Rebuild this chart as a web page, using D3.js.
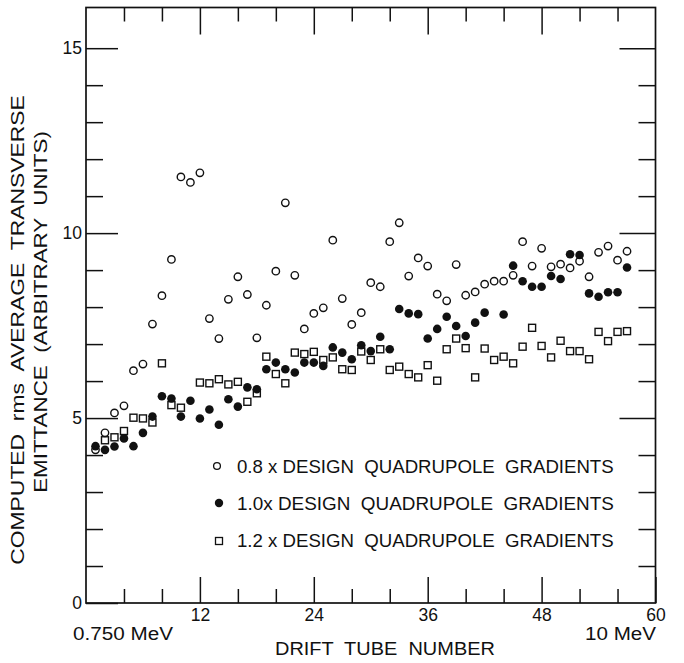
<!DOCTYPE html>
<html><head><meta charset="utf-8">
<script src="https://cdn.jsdelivr.net/npm/d3@7"></script>
<style>body{margin:0;background:#fff}svg{display:block}text{font-family:"Liberation Sans",Arial,sans-serif;fill:#111}</style>
</head><body><svg id="c" width="684" height="663"></svg>
<script>
// ---- data ----
const tubes = [1,2,3,4,5,6,7,8,9,10,11,12,13,14,15,16,17,18,19,20,21,22,23,24,25,26,27,28,29,30,
  31,32,33,34,35,36,37,38,39,40,41,42,43,44,45,46,47,48,49,50,51,52,53,54,55,56,57];
const grad08 = [4.14,4.60,5.14,5.33,6.28,6.46,7.54,8.31,9.29,11.52,11.37,11.63,7.69,7.15,8.21,8.82,
  8.34,7.17,8.05,8.97,10.82,8.86,7.41,7.83,7.98,9.81,8.23,7.53,7.85,8.66,8.55,
  9.77,10.28,8.84,9.33,9.11,8.35,8.17,9.15,8.32,8.41,8.62,8.70,8.70,8.86,9.77,
  9.11,9.59,9.09,9.16,9.06,9.24,8.82,9.48,9.65,9.27,9.51];
const grad10 = [4.24,4.14,4.23,4.45,4.24,4.60,5.04,5.59,5.53,5.04,5.47,4.99,5.23,4.82,5.51,5.31,
  5.83,5.78,6.32,6.50,6.32,6.23,6.50,6.50,6.41,6.91,6.77,6.59,6.97,6.81,7.20,
  6.86,7.95,7.83,7.81,7.15,7.41,7.74,7.49,7.22,7.58,7.85,null,7.80,9.12,8.70,
  8.55,8.55,8.84,8.76,9.43,9.41,8.37,8.28,8.40,8.40,9.07];
const grad12 = [null,4.40,4.48,4.65,5.01,4.99,4.88,6.48,5.35,5.28,null,5.96,5.94,6.05,5.91,5.98,
  5.44,5.67,6.66,6.19,5.94,6.77,6.73,6.79,6.57,6.64,6.32,6.30,6.80,6.57,6.86,
  6.30,6.39,6.19,6.10,6.43,6.01,6.86,7.15,6.89,6.10,6.88,6.57,6.66,6.48,6.93,
  7.44,6.95,6.64,7.09,6.81,6.81,6.59,7.33,7.08,7.33,7.35];
const xMajorTicks = [12,24,36,48,60];
const xMinorTicks = [4,8,16,20,28,32,40,44,52,56];
const yMajorTicks = [0,5,10,15];
const yMinorTicks = [1,2,3,4,6,7,8,9,11,12,13,14];
const legendLabels = ["0.8 x DESIGN  QUADRUPOLE  GRADIENTS","1.0x DESIGN  QUADRUPOLE  GRADIENTS","1.2 x DESIGN  QUADRUPOLE  GRADIENTS"];
const xTitle = "DRIFT  TUBE  NUMBER";
const yTitle1 = "COMPUTED  rms  AVERAGE  TRANSVERSE";
const yTitle2 = "EMITTANCE  (ARBITRARY  UNITS)";
const energyLeft = "0.750 MeV", energyRight = "10 MeV";

// ---- chart ----
const svg = d3.select("#c");
const x = d3.scaleLinear().domain([0,60]).range([86,655.5]);
const y = d3.scaleLinear().domain([0,16.1]).range([603,7.5]);
const FS = 17.5;

function fit(sel, w){
  const L = sel.node().getComputedTextLength();
  sel.attr("transform", (sel.attr("transform")||"") + ` scale(${w/L},1)`);
}
function styleAxis(g){
  g.select(".domain").remove();
  g.selectAll(".tick line").attr("stroke","#111").attr("stroke-width",1.5);
  g.selectAll(".tick text").attr("font-size",FS).attr("font-family","Liberation Sans, Arial, sans-serif").attr("fill","#111");
}
// frame
svg.append("rect").attr("x",x(0)).attr("y",y(16.1)).attr("width",x(60)-x(0)).attr("height",y(0)-y(16.1))
  .attr("fill","none").attr("stroke","#111").attr("stroke-width",1.7);

// bottom
svg.append("g").attr("transform",`translate(0,${y(0)})`).call(d3.axisBottom(x).tickValues(xMinorTicks).tickSize(-14).tickFormat("")).call(styleAxis);
svg.append("g").attr("transform",`translate(0,${y(0)})`).call(d3.axisBottom(x).tickValues(xMajorTicks).tickSize(-26).tickPadding(6)).call(styleAxis);
// top
svg.append("g").attr("transform",`translate(0,${y(16.1)})`).call(d3.axisTop(x).tickValues(xMinorTicks).tickSize(-14).tickFormat("")).call(styleAxis);
svg.append("g").attr("transform",`translate(0,${y(16.1)})`).call(d3.axisTop(x).tickValues(xMajorTicks.slice(0,4)).tickSize(-27).tickFormat("")).call(styleAxis);
// left
svg.append("g").attr("transform",`translate(${x(0)},0)`).call(d3.axisLeft(y).tickValues(yMinorTicks).tickSize(-17).tickFormat("")).call(styleAxis);
svg.append("g").attr("transform",`translate(${x(0)},0)`).call(d3.axisLeft(y).tickValues(yMajorTicks).tickSize(-32).tickPadding(4)).call(styleAxis);
// right
svg.append("g").attr("transform",`translate(${x(60)},0)`).call(d3.axisRight(y).tickValues(yMinorTicks).tickSize(-17).tickFormat("")).call(styleAxis);
svg.append("g").attr("transform",`translate(${x(60)},0)`).call(d3.axisRight(y).tickValues(yMajorTicks.slice(1)).tickSize(-36).tickFormat("")).call(styleAxis);

// data
const pts = (vals) => tubes.map((t,i)=>({t, v: vals[i]})).filter(d=>d.v!=null);
const S = 7;
svg.append("g").selectAll("rect").data(pts(grad12)).join("rect")
  .attr("x",d=>x(d.t)-S/2).attr("y",d=>y(d.v)-S/2).attr("width",S).attr("height",S)
  .attr("fill","#fff").attr("stroke","#111").attr("stroke-width",1.4);
svg.append("g").selectAll("circle").data(pts(grad08)).join("circle")
  .attr("cx",d=>x(d.t)).attr("cy",d=>y(d.v)).attr("r",3.7)
  .attr("fill","#fff").attr("stroke","#111").attr("stroke-width",1.4);
svg.append("g").selectAll("circle").data(pts(grad10)).join("circle")
  .attr("cx",d=>x(d.t)).attr("cy",d=>y(d.v)).attr("r",4.3).attr("fill","#111");

// legend
const lg = svg.append("g");
lg.append("circle").attr("cx",217).attr("cy",466).attr("r",3.4).attr("fill","#fff").attr("stroke","#111").attr("stroke-width",1.3);
lg.append("circle").attr("cx",219).attr("cy",503).attr("r",4.2).attr("fill","#111");
lg.append("rect").attr("x",215.5).attr("y",537.5).attr("width",7).attr("height",7).attr("fill","#fff").attr("stroke","#111").attr("stroke-width",1.3);
const lgY = [472.5, 509.5, 547];
legendLabels.forEach((s,i)=>{
  const t = lg.append("text").attr("font-size",FS).attr("transform",`translate(237,${lgY[i]})`).attr("style","white-space:pre").text(s);
  fit(t, 377);
});

// axis texts
const t1 = svg.append("text").attr("font-size",FS).attr("transform","translate(73,640)").text(energyLeft); fit(t1,100);
const t2 = svg.append("text").attr("font-size",FS).attr("transform","translate(585,640)").text(energyRight); fit(t2,71);
const t3 = svg.append("text").attr("font-size",FS).attr("style","white-space:pre").attr("transform","translate(275,655)").text(xTitle); fit(t3,220);
const t4 = svg.append("text").attr("font-size",FS+0.5).attr("style","white-space:pre").attr("text-anchor","middle").attr("transform","translate(24,330) rotate(-90)").text(yTitle1); fit(t4,470);
const t5 = svg.append("text").attr("font-size",FS+0.5).attr("style","white-space:pre").attr("text-anchor","middle").attr("transform","translate(47,312) rotate(-90)").text(yTitle2); fit(t5,362);
</script></body></html>
